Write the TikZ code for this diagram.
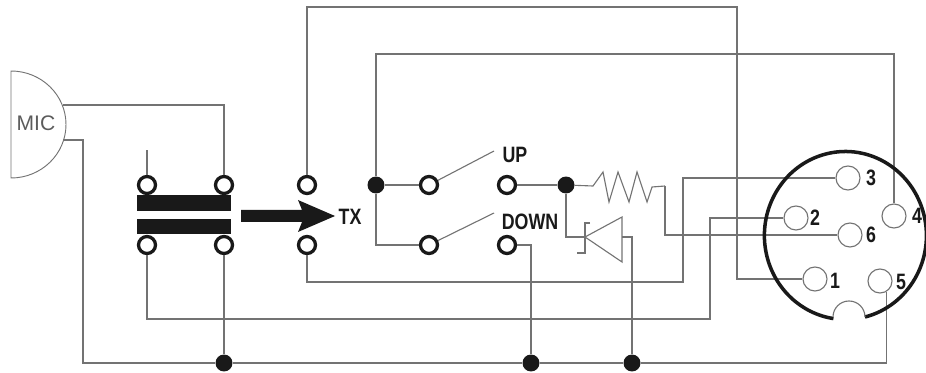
\documentclass[tikz,border=0pt]{standalone}
\usepackage{fontspec}
\setmainfont{Liberation Sans}
\newfontfamily\pinfont[FakeStretch=0.8]{Liberation Sans}
\usepackage{xcolor}
\usepackage{tikz}

\definecolor{wirecol}{gray}{0.45}
\definecolor{inkcol}{gray}{0.1}

\tikzset{
    wire/.style={draw=wirecol, line width=0.95pt},
    contact/.style={draw=inkcol, fill=white, circle, line width=2.8pt, inner sep=0pt, minimum size=14.5pt},
    junction/.style={fill=inkcol, circle, inner sep=0pt, minimum size=14.5pt},
    pin/.style={draw=wirecol, circle, line width=0.95pt, inner sep=0pt, minimum size=20.5pt},
    tag/.style={text=inkcol, inner sep=0pt, font=\pinfont\bfseries\fontsize{19}{19}\selectfont},
}

\begin{document}
\begin{tikzpicture}[x=0.03cm, y=-0.03cm]
    \useasboundingbox (0, 0) rectangle (926, 373);

    \node [contact] (T1) at (147, 185){};
    \node [contact] (T2) at (224, 185){};
    \node [contact] (T3) at (147, 245){};
    \node [contact] (T4) at (224, 245){};
    \node [contact] (T5) at (307, 185){};
    \node [contact] (T6) at (307, 245){};

    \node [contact] (S1) at (429, 185){};
    \node [contact] (S2) at (507, 185){};
    \node [contact] (S3) at (429, 245){};
    \node [contact] (S4) at (507, 245){};

    \node [junction] (J1) at (224, 363){};
    \node [junction] (J2) at (531, 363){};
    \node [junction] (J3) at (632, 363){};
    \node [junction] (J4) at (376, 185){};
    \node [junction] (J5) at (566, 185){};

    \node [pin] (pin1) at (815, 279){};
    \node [pin] (pin2) at (796, 218){};
    \node [pin] (pin3) at (848, 178){};
    \node [pin] (pin4) at (894, 216){};
    \node [pin] (pin5) at (880, 281){};
    \node [pin] (pin6) at (850, 235){};

    \coordinate (micA) at (63, 105);
    \coordinate (micB) at (63, 140);
    \coordinate (bendA) at (83, 363);
    \coordinate (bendB) at (710, 319);
    \coordinate (bendC) at (737, 7);
    \coordinate (bendD) at (683, 282);
    \coordinate (bendE) at (894, 54);
    \coordinate (stub) at (147, 150);
    \coordinate (bladeA) at (494, 151);
    \coordinate (bladeB) at (494, 213);
    \coordinate (resA) at (593, 186);
    \coordinate (resB) at (665, 186);
    \coordinate (zenA) at (585, 237);
    \coordinate (zenB) at (622, 237);

    % microphone
    \draw [wire, line width=0.8pt] (11, 71) arc [start angle=-90, end angle=90, x radius=55, y radius=53.5] -- cycle;
    \node [text=wirecol!80!black, inner sep=0pt, font=\fontsize{18}{18}\selectfont] (MIC) at (36, 123){MIC};

    % contacts block and arrow
    \fill [inkcol] (137, 195) rectangle (231, 211);
    \fill [inkcol] (137, 219) rectangle (231, 234);
    \fill [inkcol] (241, 210) -- (302, 210) -- (298, 200) -- (335, 216) -- (298, 232) -- (302, 222) -- (241, 222) -- cycle;

    % wiring
    \draw [wire] (micA) -| (T2);
    \draw [wire] (micB) -| (bendA) -- (J1);
    \draw [wire] (J1) -- (J2) -- (J3) -| (pin5.300);
    \draw [wire] (T1) -- (stub);
    \draw [wire] (T3) |- (bendB) |- (pin2);
    \draw [wire] (T4) -- (J1);
    \draw [wire] (T5) |- (bendC) |- (pin1);
    \draw [wire] (T6) |- (bendD) |- (pin3);
    \draw [wire] (J4) |- (bendE) -- (pin4);
    \draw [wire] (J4) -- (S1);
    \draw [wire] (J4) |- (S3);
    \draw [wire] (S1) -- (bladeA);
    \draw [wire] (S3) -- (bladeB);
    \draw [wire] (S2) -- (J5);
    \draw [wire] (S4) -| (J2);

    % resistor
    \draw [wire] (J5) -- (resA) -- (603, 172) -- (609, 202) -- (618, 172) -- (629, 202) -- (637, 172) -- (647, 202) -- (652, 187) -- (resB);
    \draw [wire] (resB) |- (pin6);

    % zener
    \draw [wire] (J5) |- (zenA);
    \draw [wire] (590, 223) -- (585, 223) -- (585, 253) -- (577, 253);
    \draw [wire] (zenA) -- (622, 217) -- (622, 262) -- cycle;
    \draw [wire] (zenB) -| (J3);

    % connector shell
    \draw [draw=inkcol, line width=3pt] (865, 317) arc [start angle=76, end angle=-261.5, x radius=81, y radius=84];
    \draw [wire] (833, 317) arc [start angle=180, end angle=360, radius=16];

    \node [tag] (TX) at (350, 217){TX};
    \node [tag] (UP) at (515, 155){UP};
    \node [tag] (DOWN) at (530, 222){DOWN};
    \node [tag] (n1) at (835, 281){1};
    \node [tag] (n2) at (815, 218){2};
    \node [tag] (n3) at (871, 178){3};
    \node [tag] (n4) at (917, 216){4};
    \node [tag] (n5) at (901, 282){5};
    \node [tag] (n6) at (871, 235){6};
\end{tikzpicture}
\end{document}
